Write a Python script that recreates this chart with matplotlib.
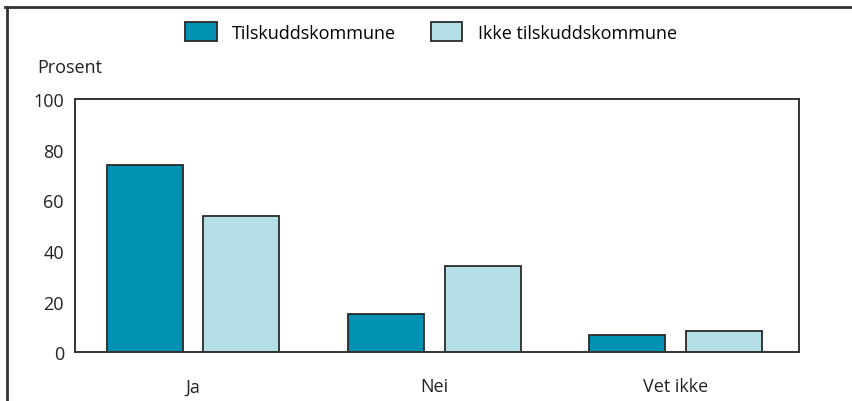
import numpy as np
import matplotlib
matplotlib.use("Agg")
import matplotlib.pyplot as plt
from matplotlib.lines import Line2D

categories = ["Ja", "Nei", "Vet ikke"]
series_names = ["Tilskuddskommune", "Ikke tilskuddskommune"]
tilskudd = [74, 15, 7]
ikke_tilskudd = [54, 34, 8.5]
yticks = [0, 20, 40, 60, 80, 100]

dark = "#0091b3"
light = "#b5dfe7"
edge = "#2a2a2a"
fs = 13

plt.rcParams["font.family"] = ["Open Sans", "DejaVu Sans"]

fig = plt.figure(figsize=(8.52, 4.02), dpi=100)
ax = fig.add_axes([75 / 852, 1 - 353.3 / 402, 723.5 / 852, 253.3 / 402])

x = np.arange(len(categories))
w = 0.315
ax.bar(x - 0.2, tilskudd, w, color=dark, edgecolor=edge, linewidth=1.3,
       label=series_names[0])
ax.bar(x + 0.2, ikke_tilskudd, w, color=light, edgecolor=edge, linewidth=1.3,
       label=series_names[1])

ax.set_xlim(-0.49, 2.51)
ax.set_ylim(0, 100)
ax.set_yticks(yticks)
ax.set_xticks(x)
ax.set_xticklabels(categories)
ax.tick_params(axis="both", length=0, labelsize=fs, colors="#222222")
ax.tick_params(axis="x", pad=18)
ax.tick_params(axis="y", pad=8)
for s in ax.spines.values():
    s.set_color("#333333")
    s.set_linewidth(1.4)

fig.text(37 / 852, 1 - 68 / 402, "Prosent", fontsize=fs, color="#222222",
         va="center", ha="left")

fig.legend(loc="center", bbox_to_anchor=(0.506, 1 - 33 / 402), ncol=2,
           frameon=False, fontsize=fs, handlelength=1.75, handleheight=1.2,
           handletextpad=0.85, columnspacing=1.9)

# outer frame (top and left edges)
fig.add_artist(Line2D([5 / 852, 1], [1 - 8 / 402, 1 - 8 / 402],
                      transform=fig.transFigure, color="#333333", linewidth=2))
fig.add_artist(Line2D([7 / 852, 7 / 852], [0, 1 - 8 / 402],
                      transform=fig.transFigure, color="#333333", linewidth=2))

fig.savefig("out.png", dpi=100)
